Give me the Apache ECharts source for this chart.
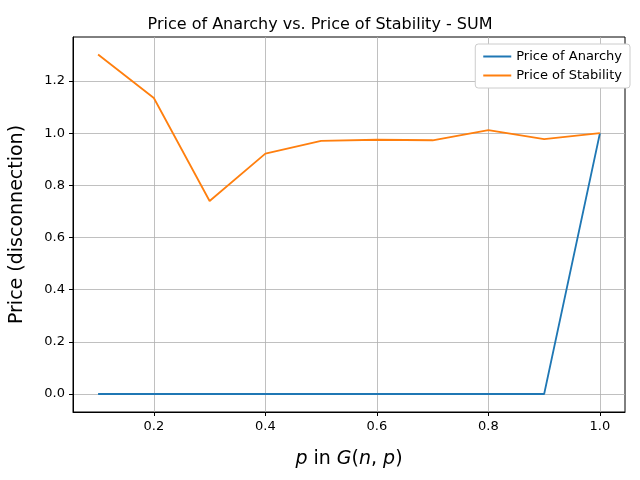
<!DOCTYPE html>
<html>
<head>
<meta charset="utf-8">
<script src="https://cdn.jsdelivr.net/npm/echarts@6/dist/echarts.min.js"></script>
<style>html,body{margin:0;padding:0;background:#fff}#chart{width:640px;height:480px}</style>
</head>
<body>
<div id="chart"></div>
<script>
// p values and prices
const pValues = [0.1, 0.2, 0.3, 0.4, 0.5, 0.6, 0.7, 0.8, 0.9, 1.0];
const anarchy = [0, 0, 0, 0, 0, 0, 0, 0, 0, 1.0];
const stability = [1.302, 1.135, 0.74, 0.922, 0.971, 0.975, 0.973, 1.012, 0.977, 1.0];
const xTicks = [0.2, 0.4, 0.6, 0.8, 1.0];
const yTicks = [0.0, 0.2, 0.4, 0.6, 0.8, 1.0, 1.2];

const chart = echarts.init(document.getElementById('chart'));
const axisCommon = {
    axisLine: { onZero: false, lineStyle: { color: '#000' } },
    axisTick: { show: true, length: 4, lineStyle: { color: '#000' } },
    axisLabel: { color: '#000', fontSize: 13, fontFamily: 'DejaVu Sans' },
    splitLine: { show: true, lineStyle: { color: '#b0b0b0', width: 0.8 } }
};
chart.setOption({
    animation: false,
    title: {
        text: 'Price of Anarchy vs. Price of Stability - SUM',
        left: 'center', top: 12,
        textStyle: { fontSize: 16, fontWeight: 'normal', fontFamily: 'DejaVu Sans', color: '#000' }
    },
    legend: {
        right: 10, top: 44, orient: 'vertical', itemGap: 6,
        backgroundColor: '#fff', borderColor: '#ccc', borderWidth: 1, borderRadius: 3, padding: [6, 8],
        itemWidth: 28, itemHeight: 2, icon: 'rect',
        textStyle: { fontSize: 13, fontFamily: 'DejaVu Sans', color: '#000' }
    },
    grid: { left: 72, right: 15, top: 37, bottom: 68, show: true, borderColor: '#000', borderWidth: 1 },
    xAxis: Object.assign({}, axisCommon, {
        type: 'value', min: 0.055, max: 1.045,
        name: '{i|p} in {i|G}(n, p)'.replace('(n, p)', '({i|n}, {i|p})'), nameLocation: 'middle', nameGap: 38,
        axisTick: Object.assign({}, axisCommon.axisTick, { customValues: xTicks }),
        axisLabel: Object.assign({}, axisCommon.axisLabel, { customValues: xTicks, formatter: v => v.toFixed(1) }),
        nameTextStyle: { fontSize: 19, fontFamily: 'DejaVu Sans', color: '#000',
            rich: { i: { fontSize: 19, fontFamily: 'DejaVu Sans', fontStyle: 'italic', color: '#000' } } }
    }),
    yAxis: Object.assign({}, axisCommon, {
        type: 'value', min: -0.069, max: 1.369,
        name: 'Price (disconnection)', nameLocation: 'middle', nameGap: 46,
        axisTick: Object.assign({}, axisCommon.axisTick, { customValues: yTicks }),
        axisLabel: Object.assign({}, axisCommon.axisLabel, { customValues: yTicks, formatter: v => v.toFixed(1) }),
        nameTextStyle: { fontSize: 19, fontFamily: 'DejaVu Sans', color: '#000' }
    }),
    series: [
        { name: 'Price of Anarchy', type: 'line', data: pValues.map((p, i) => [p, anarchy[i]]),
          showSymbol: false, lineStyle: { color: '#1f77b4', width: 1.8 }, itemStyle: { color: '#1f77b4' } },
        { name: 'Price of Stability', type: 'line', data: pValues.map((p, i) => [p, stability[i]]),
          showSymbol: false, lineStyle: { color: '#ff7f0e', width: 1.8 }, itemStyle: { color: '#ff7f0e' } }
    ]
});
</script>
</body>
</html>
